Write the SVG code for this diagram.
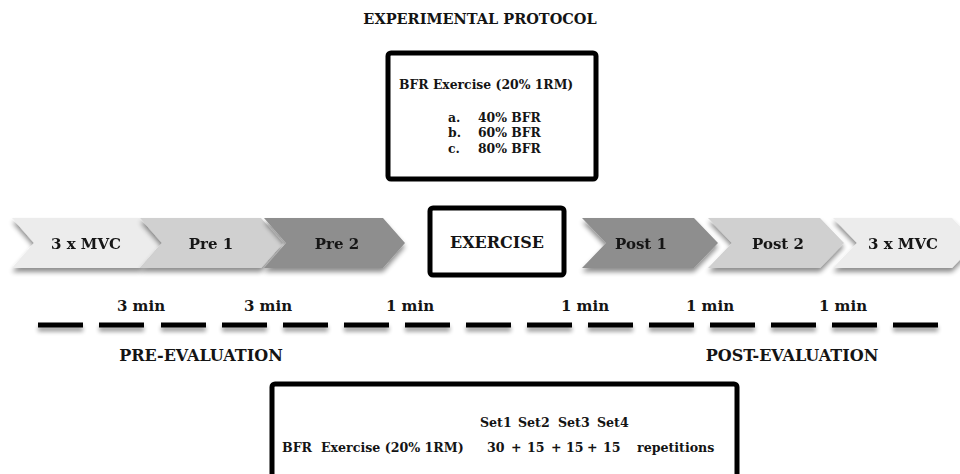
<svg xmlns="http://www.w3.org/2000/svg" width="960" height="474" viewBox="0 0 960 474">
<style>
text{font-family:"DejaVu Serif","Liberation Serif",serif;font-weight:bold;fill:#141414}
.tt{font-size:14.5px}
.tc{font-size:15px}
.tb{font-size:16px}
.t12{font-size:12.4px}
.t13{font-size:12.6px}
.mid{text-anchor:middle}
.box{fill:#fff;stroke:#000;stroke-width:5}
.c1{fill:#ececec}
.c2{fill:#d0d0d0}
.c3{fill:#8e8e8e}
</style>
<defs>
<filter id="sh" x="-10%" y="-20%" width="130%" height="160%">
<feGaussianBlur in="SourceAlpha" stdDeviation="2.5"/>
<feOffset dx="0" dy="4" result="b"/>
<feComponentTransfer><feFuncA type="linear" slope="0.45"/></feComponentTransfer>
<feMerge><feMergeNode/><feMergeNode in="SourceGraphic"/></feMerge>
</filter>
<filter id="dsh" filterUnits="userSpaceOnUse" x="20" y="310" width="940" height="35">
<feGaussianBlur in="SourceAlpha" stdDeviation="2"/>
<feOffset dx="0" dy="4"/>
<feComponentTransfer><feFuncA type="linear" slope="0.4"/></feComponentTransfer>
<feMerge><feMergeNode/><feMergeNode in="SourceGraphic"/></feMerge>
</filter>
</defs>
<rect width="960" height="474" fill="#fff"/>

<text class="tt mid" x="480" y="24">EXPERIMENTAL PROTOCOL</text>

<g id="protocol-box">
<rect class="box" x="388" y="53" width="208" height="126" rx="3"/>
<text class="t12" x="399" y="89">BFR Exercise (20% 1RM)</text>
<text class="t12" x="448" y="122">a.</text><text class="t12" x="478" y="122">40% BFR</text>
<text class="t12" x="448" y="137">b.</text><text class="t12" x="478" y="137">60% BFR</text>
<text class="t12" x="448" y="153">c.</text><text class="t12" x="478" y="153">80% BFR</text>
</g>

<g id="mvc-pre" filter="url(#sh)">
<polygon class="c1" points="12,218 140,218 162,243 140,268 12,268 34,243"/>
<text class="tc mid" x="86" y="249">3 x MVC</text>
</g>
<g id="pre1" filter="url(#sh)">
<polygon class="c2" points="140,218 261,218 283,243 261,268 140,268 162,243"/>
<text class="tc mid" x="211" y="249">Pre 1</text>
</g>
<g id="pre2" filter="url(#sh)">
<polygon class="c3" points="264,218 383,218 405,243 383,268 264,268 286,243"/>
<text class="tc mid" x="337" y="249">Pre 2</text>
</g>

<g id="exercise">
<rect class="box" x="430" y="208" width="134" height="67" rx="3"/>
<text class="tb mid" x="497" y="248">EXERCISE</text>
</g>

<g id="post1" filter="url(#sh)">
<polygon class="c3" points="582,218 694,218 718,243 694,268 582,268 606,243"/>
<text class="tc mid" x="641" y="249">Post 1</text>
</g>
<g id="post2" filter="url(#sh)">
<polygon class="c2" points="708,218 820,218 844,243 820,268 708,268 732,243"/>
<text class="tc mid" x="778" y="249">Post 2</text>
</g>
<g id="mvc-post" filter="url(#sh)">
<polygon class="c1" points="833,218 952,218 976,243 952,268 833,268 857,243"/>
<text class="tc mid" x="903" y="249">3 x MVC</text>
</g>

<g id="connectors" filter="url(#dsh)" fill="#000">
<rect x="38" y="322.5" width="45" height="5"/>
<rect x="99" y="322.5" width="45" height="5"/>
<rect x="161" y="322.5" width="45" height="5"/>
<rect x="222" y="322.5" width="45" height="5"/>
<rect x="283" y="322.5" width="45" height="5"/>
<rect x="344" y="322.5" width="45" height="5"/>
<rect x="405" y="322.5" width="45" height="5"/>
<rect x="466" y="322.5" width="45" height="5"/>
<rect x="527" y="322.5" width="45" height="5"/>
<rect x="588" y="322.5" width="45" height="5"/>
<rect x="649" y="322.5" width="45" height="5"/>
<rect x="710" y="322.5" width="45" height="5"/>
<rect x="771" y="322.5" width="45" height="5"/>
<rect x="832" y="322.5" width="45" height="5"/>
<rect x="893" y="322.5" width="45" height="5"/>
</g>

<g id="timings">
<text class="tc mid" x="141" y="311">3 min</text>
<text class="tc mid" x="268" y="311">3 min</text>
<text class="tc mid" x="410" y="311">1 min</text>
<text class="tc mid" x="585" y="311">1 min</text>
<text class="tc mid" x="710" y="311">1 min</text>
<text class="tc mid" x="843" y="311">1 min</text>
</g>

<text class="tb mid" x="201" y="361">PRE-EVALUATION</text>
<text class="tb mid" x="792" y="361">POST-EVALUATION</text>

<g id="sets-box">
<rect class="box" x="272" y="384" width="465" height="100" rx="3"/>
<text class="t13" x="480" y="427">Set1</text>
<text class="t13" x="518" y="427">Set2</text>
<text class="t13" x="558" y="427">Set3</text>
<text class="t13" x="597" y="427">Set4</text>
<text class="t13" x="282" y="452">BFR</text>
<text class="t13" x="321" y="452">Exercise (20% 1RM)</text>
<text class="t13" x="487" y="452">30</text>
<text class="t13" x="511" y="452">+</text>
<text class="t13" x="527" y="452">15</text>
<text class="t13" x="551" y="452">+</text>
<text class="t13" x="566" y="452">15</text>
<text class="t13" x="587" y="452">+</text>
<text class="t13" x="603" y="452">15</text>
<text class="t13" x="637" y="452">repetitions</text>
</g>
</svg>
